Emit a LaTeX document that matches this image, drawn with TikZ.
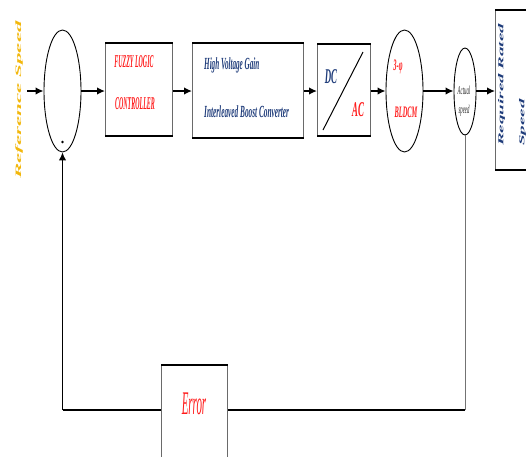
\documentclass[tikz,border=0pt]{standalone}
\usepackage{fontspec}
\setmainfont{Liberation Serif}
\usetikzlibrary{shapes.geometric,arrows.meta}
\definecolor{gold}{HTML}{F2B70C}
\definecolor{dblue}{HTML}{1F3C7A}
\definecolor{myred}{HTML}{FF1A1A}
\definecolor{sidegray}{HTML}{6A6A6A}
\newcommand{\sqz}[2]{\scalebox{#1}[1]{#2}}
\newcommand{\sqv}[2]{\scalebox{1}[#1]{#2}}
\begin{document}
\begin{tikzpicture}[x=1pt,y=-1pt,
  >={Latex[length=8pt,width=7.5pt]},
  blk/.style={draw=sidegray, line width=0.8pt, inner sep=0pt, anchor=north west},
  hedge/.style={line width=1.8pt, black},
  ell/.style={draw, ellipse, line width=0.9pt, inner sep=0pt},
  conn/.style={line width=1.5pt, ->},
  fb/.style={line width=1.2pt},
  lab/.style={inner sep=0pt, font=\bfseries\itshape}]
\useasboundingbox (0,0) rectangle (526,456);

% blocks
\node[ell, minimum width=37pt, minimum height=122pt] (s) at (62.5,91) {};
\node[circle, fill, inner sep=0.9pt] (dot) at (62.5,142) {};
\node[blk, minimum width=67pt, minimum height=92pt] (fz) at (105,43) {};
\node[blk, minimum width=111pt, minimum height=94pt] (hv) at (192,43) {};
\node[blk, minimum width=53pt, minimum height=91pt] (dc) at (317,44) {};
\node[ell, minimum width=37pt, minimum height=122pt] (m) at (404.5,91) {};
\node[ell, minimum width=22pt, minimum height=87pt] (as) at (465,91.5) {};
\node[blk, minimum width=45pt, minimum height=159pt] (rq) at (495,10) {};
\node[blk, minimum width=66pt, minimum height=95pt] (er) at (161,365) {};
\foreach \n in {fz,hv,dc,rq,er}
  \draw[hedge] (\n.north west) -- (\n.north east) (\n.south west) -- (\n.south east);

% DC/AC diagonal
\coordinate (d1) at (323,130);
\coordinate (d2) at (363,52);
\draw[line width=1pt] (d1) -- (d2);

% texts
\node[lab, text=gold, rotate=90] (ref) at (19,100) {\sqv{0.36}{\fontsize{23}{23}\selectfont Reference Speed}};
\node[lab, text=myred] (t1) at (134,62) {\sqz{0.33}{\fontsize{18}{18}\selectfont FUZZY LOGIC}};
\node[lab, text=myred] (t2) at (135,104) {\sqz{0.33}{\fontsize{18}{18}\selectfont CONTROLLER}};
\node[lab, text=dblue, anchor=west] (t3) at (204,65) {\sqz{0.42}{\fontsize{17}{17}\selectfont High Voltage Gain}};
\node[lab, text=dblue, anchor=west] (t4) at (204,112) {\sqz{0.43}{\fontsize{17}{17}\selectfont Interleaved Boost Converter}};
\node[lab, text=dblue] (t5) at (331,77) {\sqz{0.42}{\fontsize{21}{21}\selectfont DC}};
\node[lab, text=myred] (t6) at (358,110) {\sqz{0.42}{\fontsize{21}{21}\selectfont AC}};
\node[lab, text=myred] (t7) at (398,67) {\sqz{0.4}{\fontsize{16}{16}\selectfont 3-φ}};
\node[lab, text=myred] (t8) at (406,112) {\sqz{0.4}{\fontsize{16}{16}\selectfont BLDCM}};
\node[inner sep=0pt, font=\itshape, text=black!85] (t9) at (464,90) {\sqz{0.4}{\fontsize{12}{12}\selectfont Actual}};
\node[inner sep=0pt, font=\itshape, text=black!85] (t10) at (464,111) {\sqz{0.4}{\fontsize{12}{12}\selectfont speed}};
\node[lab, text=dblue, rotate=90, anchor=north west, align=left] (t11) at (498,146)
  {\sqv{0.4}{\fontsize{19}{19}\selectfont Required Rated}\\[9pt]\sqv{0.4}{\fontsize{19}{19}\selectfont Speed}};
\node[inner sep=0pt, font=\itshape, text=myred] (t12) at (194,404) {\sqz{0.33}{\fontsize{33}{33}\selectfont Error}};

% forward path
\coordinate (in) at (27,91);
\draw[conn] (in) -- (s.west);
\draw[conn] (s.east) -- (s.east -| fz.west);
\draw[conn] (fz.east |- s.east) -- (hv.west |- s.east);
\draw[conn] (hv.east |- s.east) -- (dc.west |- s.east);
\draw[conn] (dc.east |- s.east) -- (m.west);
\draw[conn] (m.east) -- (as.west |- m.east);
\draw[conn] (as.east |- m.east) -- (rq.west |- m.east);

% feedback
\coordinate (fbR) at (465,410);
\coordinate (fbL) at (62.5,410);
\draw[line width=1pt, black!55] (as.south) -- (fbR);
\draw[fb] (fbR) -- (fbR -| er.east);
\draw[fb] (fbL -| er.west) -- (fbL);
\draw[fb, ->] (fbL) -- (s.south);
\end{tikzpicture}
\end{document}
